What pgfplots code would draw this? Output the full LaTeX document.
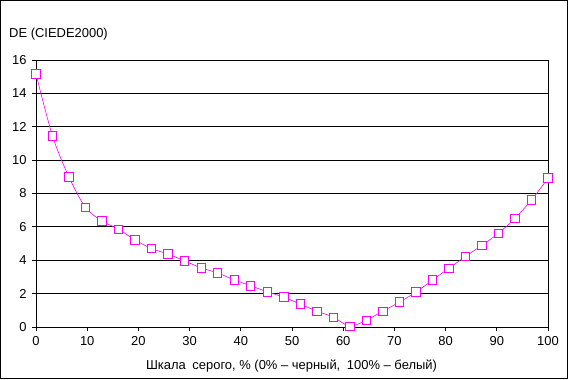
\documentclass[border=0pt]{standalone}
\usepackage{pgfplots}
\pgfplotsset{compat=1.18}
\usepackage{fontspec}
\setmainfont{Liberation Sans}
\definecolor{mag}{RGB}{255,0,255}
\begin{document}
\fontsize{13}{15}\selectfont
\begin{tikzpicture}[x=1bp,y=1bp]
\useasboundingbox (0,0) rectangle (568,379);
\draw[line width=1bp] (0.5,0.5) rectangle (567.5,378.5);
\begin{axis}[
  at={(36bp,52bp)}, anchor=south west,
  scale only axis, width=512bp, height=267bp,
  xmin=0, xmax=100, ymin=0, ymax=16,
  xtick={0,10,...,100}, ytick={0,2,...,16},
  xtick pos=bottom, ytick pos=left,
  tick align=outside, major tick length=4bp,
  tick style={black, line width=0.8bp},
  axis line style={black, line width=0.8bp},
  ymajorgrids, grid style={black, line width=0.8bp},
  /pgf/number format/assume math mode=true,
  ticklabel style={font=\fontsize{13}{15}\selectfont},
  xticklabel style={yshift=-1bp},
  yticklabel style={xshift=-1bp},
  clip=false,
]
\addplot[mag, line width=0.6bp, smooth, tension=0.5, mark=square*, mark size=4.2bp,
  mark options={solid, fill=white, draw=mag, line width=0.9bp}] coordinates {
(0,15.16) (3.226,11.44) (6.452,8.98) (9.677,7.16) (12.903,6.35) (16.129,5.86)
(19.355,5.21) (22.581,4.70) (25.806,4.37) (29.032,3.96) (32.258,3.54) (35.484,3.24)
(38.710,2.82) (41.935,2.47) (45.161,2.11) (48.387,1.79) (51.613,1.37) (54.839,0.95)
(58.065,0.59) (61.290,0.05) (64.516,0.41) (67.742,0.95) (70.968,1.49) (74.194,2.09)
(77.419,2.81) (80.645,3.52) (83.871,4.23) (87.097,4.90) (90.323,5.62) (93.548,6.52)
(96.774,7.61) (100,8.92)
};
\end{axis}
\node[anchor=base west, inner sep=0] at (9,342) {DE (CIEDE2000)};
\node[anchor=base, inner sep=0] at (291.5,10) {Шкала\hspace{3bp} серого, \% (0\% – черный,\hspace{3bp} 100\% – белый)};
\end{tikzpicture}
\end{document}
